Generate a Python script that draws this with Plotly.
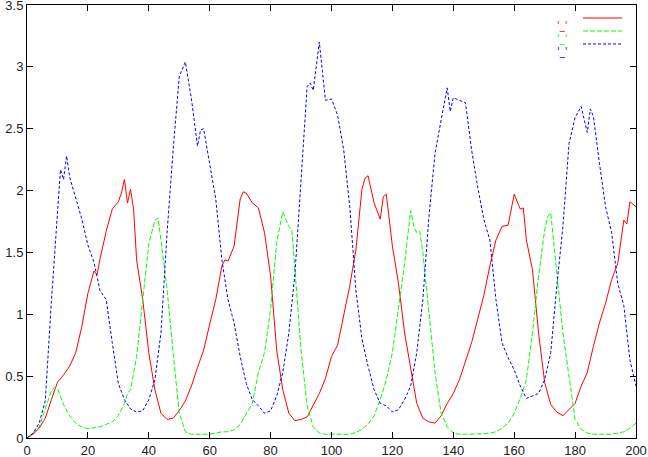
import plotly.graph_objects as go

# values
red_x = [0, 2, 4, 6, 8, 10, 12, 14, 16, 18, 20, 22, 23, 24, 26, 28, 30, 31, 32, 33, 34, 35, 36, 38, 40,
         42, 44, 46, 48, 50, 52, 54, 56, 58, 60, 62, 64, 65, 66, 68, 70, 71, 72, 74, 76, 78, 80, 82, 84,
         86, 88, 90, 92, 94, 96, 98, 100, 102, 104, 106, 108, 110, 111, 112, 114, 116, 117, 118, 120,
         122, 124, 126, 128, 130, 132, 134, 136, 138, 140, 142, 144, 146, 148, 150, 152, 154, 156, 158,
         160, 162, 163, 164, 166, 168, 170, 172, 174, 176, 178, 180, 182, 184, 186, 188, 190, 192, 194,
         196, 197, 198, 200]
red_y = [0, 0.03, 0.08, 0.16, 0.31, 0.45, 0.51, 0.58, 0.69, 0.9, 1.17, 1.35, 1.32, 1.45, 1.67, 1.85,
         1.91, 1.98, 2.09, 1.9, 2.01, 1.85, 1.44, 1.12, 0.69, 0.39, 0.2, 0.15, 0.16, 0.22, 0.3, 0.42,
         0.57, 0.71, 0.92, 1.12, 1.39, 1.44, 1.43, 1.55, 1.93, 1.99, 1.98, 1.9, 1.86, 1.66, 1.31, 0.71,
         0.39, 0.2, 0.14, 0.15, 0.17, 0.27, 0.36, 0.48, 0.66, 0.75, 0.98, 1.23, 1.52, 2.01, 2.1, 2.12,
         1.9, 1.77, 1.95, 1.97, 1.55, 1.25, 0.85, 0.55, 0.28, 0.16, 0.13, 0.12, 0.18, 0.28, 0.36, 0.47,
         0.63, 0.77, 0.96, 1.15, 1.39, 1.6, 1.71, 1.72, 1.97, 1.85, 1.86, 1.6, 1.36, 0.85, 0.45, 0.27,
         0.21, 0.18, 0.23, 0.28, 0.42, 0.53, 0.74, 0.93, 1.09, 1.28, 1.41, 1.76, 1.73, 1.91, 1.87]

green_x = [0, 2, 4, 6, 8, 9, 10, 12, 14, 16, 18, 20, 22, 24, 26, 28, 30, 32, 33, 34, 36, 38, 40, 42, 43,
           44, 46, 48, 50, 52, 54, 56, 58, 60, 62, 64, 66, 68, 70, 72, 74, 76, 78, 80, 82, 84, 86, 87,
           88, 90, 92, 94, 96, 98, 100, 102, 104, 106, 108, 110, 112, 114, 116, 118, 120, 122, 124,
           126, 127, 128, 129, 130, 132, 134, 136, 138, 140, 142, 144, 146, 148, 150, 152, 154, 156,
           158, 160, 162, 164, 166, 168, 170, 171, 172, 174, 176, 178, 180, 182, 184, 186, 188, 190,
           192, 194, 196, 198, 200]
green_y = [0, 0.04, 0.09, 0.23, 0.38, 0.41, 0.4, 0.27, 0.18, 0.12, 0.09, 0.075, 0.08, 0.09, 0.11, 0.13,
           0.18, 0.28, 0.36, 0.39, 0.66, 1.12, 1.57, 1.76, 1.78, 1.6, 1.2, 0.69, 0.2, 0.05, 0.03, 0.03,
           0.03, 0.03, 0.04, 0.05, 0.05, 0.065, 0.11, 0.19, 0.28, 0.53, 0.69, 1.04, 1.58, 1.83, 1.71,
           1.68, 1.35, 0.71, 0.26, 0.09, 0.04, 0.03, 0.03, 0.03, 0.03, 0.03, 0.045, 0.07, 0.11, 0.18,
           0.31, 0.47, 0.69, 1.06, 1.41, 1.84, 1.71, 1.66, 1.67, 1.5, 1.01, 0.53, 0.2, 0.09, 0.04, 0.03,
           0.03, 0.03, 0.03, 0.035, 0.04, 0.05, 0.08, 0.12, 0.2, 0.32, 0.47, 0.85, 1.31, 1.68, 1.79,
           1.82, 1.33, 0.85, 0.5, 0.15, 0.07, 0.04, 0.03, 0.03, 0.03, 0.03, 0.04, 0.05, 0.08, 0.12]

blue_x = [0, 2, 4, 6, 8, 10, 11, 12, 13, 14, 16, 18, 20, 22, 24, 26, 28, 30, 32, 34, 36, 38, 40, 42, 44,
          46, 48, 50, 52, 54, 56, 57, 58, 60, 62, 64, 66, 68, 70, 72, 74, 76, 78, 80, 82, 84, 86, 88,
          90, 92, 93, 94, 96, 98, 100, 102, 104, 106, 108, 110, 112, 114, 116, 118, 120, 122, 124, 126,
          128, 130, 132, 134, 136, 138, 139, 140, 142, 144, 146, 148, 150, 152, 154, 156, 158, 160,
          162, 164, 166, 168, 170, 172, 174, 176, 178, 180, 182, 184, 185, 186, 188, 190, 192, 194,
          196, 198, 200]
blue_y = [0, 0.04, 0.12, 0.3, 1.1, 1.77, 2.17, 2.09, 2.28, 2.11, 1.93, 1.77, 1.56, 1.42, 1.19, 1.12,
          0.77, 0.44, 0.31, 0.235, 0.21, 0.22, 0.31, 0.47, 0.85, 1.66, 2.33, 2.92, 3.04, 2.74, 2.36,
          2.49, 2.5, 2.22, 1.93, 1.44, 1.12, 0.93, 0.66, 0.44, 0.31, 0.26, 0.2, 0.22, 0.34, 0.53, 0.85,
          1.33, 2.06, 2.84, 2.87, 2.81, 3.2, 2.73, 2.74, 2.61, 2.33, 1.87, 1.2, 0.8, 0.58, 0.39, 0.28,
          0.26, 0.21, 0.23, 0.31, 0.42, 0.69, 1.12, 1.79, 2.3, 2.57, 2.83, 2.64, 2.75, 2.73, 2.71, 2.33,
          2.03, 1.77, 1.6, 1.12, 0.77, 0.65, 0.55, 0.42, 0.32, 0.34, 0.36, 0.47, 0.69, 1.23, 1.71, 2.38,
          2.59, 2.68, 2.47, 2.66, 2.6, 2.22, 1.87, 1.66, 1.25, 1.07, 0.63, 0.42]

x_ticks = [0, 20, 40, 60, 80, 100, 120, 140, 160, 180, 200]
y_ticks = [0, 0.5, 1, 1.5, 2, 2.5, 3, 3.5]
y_tick_text = ['0', '0.5', '1', '1.5', '2', '2.5', '3', '3.5']

series = [
    (red_x, red_y, '#ff0000', 'solid'),
    (green_x, green_y, '#00ff00', '5px,2px'),
    (blue_x, blue_y, '#0000ff', '3px,2px'),
]

fig = go.Figure()
for xs, ys, color, dash in series:
    fig.add_trace(go.Scatter(x=xs, y=ys, mode='lines', showlegend=False, hoverinfo='skip',
                             line=dict(color=color, width=1, dash=dash)))

# gnuplot-style key: label on the left, line sample on the right
key_rows = [0.970, 0.940, 0.910]
for (xs, ys, color, dash), ky in zip(series, key_rows):
    fig.add_annotation(xref='paper', yref='paper', x=0.892, y=ky, text="'_'",
                       showarrow=False, font=dict(family='DejaVu Sans', size=10, color=color))
    fig.add_shape(type='line', xref='paper', yref='paper', x0=0.913, x1=0.977, y0=ky, y1=ky,
                  line=dict(color=color, width=1, dash=dash))

axis_common = dict(showgrid=False, zeroline=False, showline=True, linecolor='black', linewidth=1,
                   mirror='allticks', ticks='inside', ticklen=6, tickcolor='black', tickwidth=1,
                   automargin=False, ticklabeloverflow='allow',
                   tickfont=dict(family='Liberation Sans', size=13, color='#222222'))

fig.update_xaxes(range=[0, 200], tickvals=x_ticks, **axis_common)
fig.update_yaxes(range=[0, 3.5], tickvals=y_ticks, ticktext=y_tick_text, **axis_common)

fig.update_layout(
    width=648, height=457,
    margin=dict(l=27, r=12, t=5, b=19),
    plot_bgcolor='white', paper_bgcolor='white',
)

# the page body has a default 8px margin; drop it so the figure sits at the window origin
fig.write_html("out.html", config={'displayModeBar': False},
               post_script="document.body.style.margin='0';")
